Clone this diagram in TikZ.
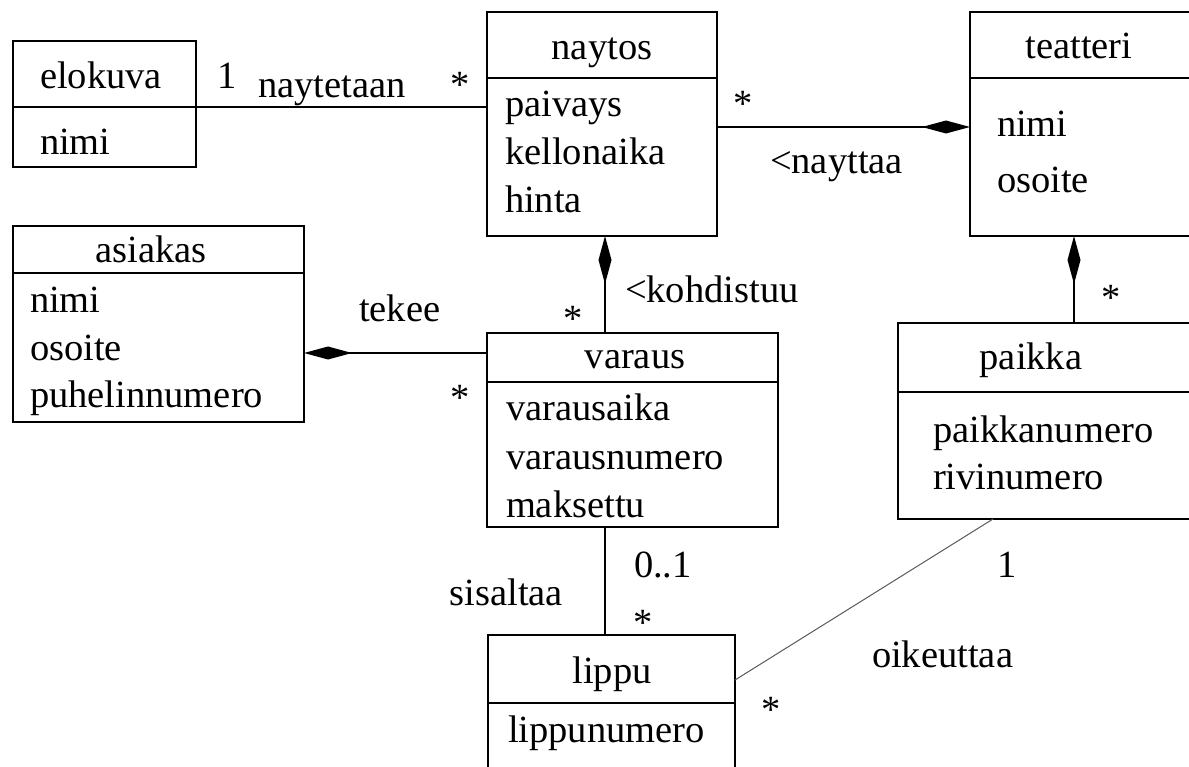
\documentclass[tikz,border=0pt]{standalone}
\usepackage{fontspec}
\setmainfont{Liberation Serif}
\usetikzlibrary{arrows.meta}
\begin{document}
\begin{tikzpicture}[x=1pt,y=-1pt,
  every node/.style={font=\fontsize{38.5}{46}\selectfont, inner sep=0pt, outer sep=0pt},
  cls/.style={draw, line width=1.7pt, anchor=north west},
  txt/.style={anchor=base west},
  ctr/.style={anchor=base},
  sep/.style={line width=1.7pt},
  assoc/.style={line width=1.7pt},
  compend/.style={line width=1.7pt, -{Diamond[length=48pt,width=13pt]}},
  compstart/.style={line width=1.7pt, {Diamond[length=48pt,width=13pt]}-},
  thinassoc/.style={line width=1pt, draw=black!65},
]
\useasboundingbox (0,0) rectangle (1189,767);
\clip (0,0) rectangle (1189,767);

% class boxes
\node[cls, minimum width=183pt, minimum height=126pt] (elokuva) at (13,41) {};
\node[cls, minimum width=230pt, minimum height=224pt] (naytos) at (487,12) {};
\node[cls, minimum width=225pt, minimum height=224pt] (teatteri) at (970,12) {};
\node[cls, minimum width=291pt, minimum height=196pt] (asiakas) at (13,226) {};
\node[cls, minimum width=291pt, minimum height=194pt] (varaus) at (487,333) {};
\node[cls, minimum width=297pt, minimum height=196pt] (paikka) at (898,323) {};
\node[cls, minimum width=247pt, minimum height=160pt] (lippu) at (488,635) {};

% dividers
\draw[sep] (elokuva.west |- 0,107) -- (elokuva.east |- 0,107);
\draw[sep] (naytos.west |- 0,78) -- (naytos.east |- 0,78);
\draw[sep] (teatteri.west |- 0,78) -- (teatteri.east |- 0,78);
\draw[sep] (asiakas.west |- 0,273) -- (asiakas.east |- 0,273);
\draw[sep] (varaus.west |- 0,382) -- (varaus.east |- 0,382);
\draw[sep] (paikka.west |- 0,392) -- (paikka.east |- 0,392);
\draw[sep] (lippu.west |- 0,703) -- (lippu.east |- 0,703);

% class texts
\node[ctr] (elokuvaN) at (101,89) {elokuva};
\node[txt] (elokuvaA1) at (40,155) {nimi};

\node[ctr] (naytosN) at (602,60) {naytos};
\node[txt] (naytosA1) at (505,117) {paivays};
\node[txt] (naytosA2) at (505,165) {kellonaika};
\node[txt] (naytosA3) at (505,213) {hinta};

\node[ctr] (teatteriN) at (1079,59) {teatteri};
\node[txt] (teatteriA1) at (997,137) {nimi};
\node[txt] (teatteriA2) at (997,193) {osoite};

\node[ctr] (asiakasN) at (151,263) {asiakas};
\node[txt] (asiakasA1) at (30,313) {nimi};
\node[txt] (asiakasA2) at (30,360) {osoite};
\node[txt] (asiakasA3) at (30,407) {puhelinnumero};

\node[ctr] (varausN) at (635,368) {varaus};
\node[txt] (varausA1) at (506,420) {varausaika};
\node[txt] (varausA2) at (506,469) {varausnumero};
\node[txt] (varausA3) at (506,517) {maksettu};

\node[ctr] (paikkaN) at (1031,370) {paikka};
\node[txt] (paikkaA1) at (933,442) {paikkanumero};
\node[txt] (paikkaA2) at (933,489) {rivinumero};

\node[ctr] (lippuN) at (612,683) {lippu};
\node[txt] (lippuA1) at (508,742) {lippunumero};

% connectors
\draw[assoc] (elokuva.east |- 0,107) -- (naytos.west |- 0,107);
\draw[compend] (naytos.east |- 0,127) -- (teatteri.west |- 0,127);
\draw[compstart] (naytos.south -| 605,0) -- (varaus.north -| 605,0);
\draw[compstart] (teatteri.south -| 1074,0) -- (paikka.north -| 1074,0);
\draw[compend] (varaus.west |- 0,353) -- (asiakas.east |- 0,353);
\draw[assoc] (varaus.south -| 605,0) -- (lippu.north -| 605,0);
\draw[thinassoc] (paikka.south -| 993,0) -- (lippu.east |- 0,680);

% association labels
\node[txt] (m1) at (217,89) {1};
\node[txt] (l1) at (258,98) {naytetaan};
\node[ctr] (m2) at (460,98) {*};
\node[ctr] (m3) at (743,117) {*};
\node[txt] (l2) at (770,174) {<nayttaa};
\node[txt] (l3) at (625,303) {<kohdistuu};
\node[ctr] (m4) at (573,331) {*};
\node[txt] (l4) at (359,322) {tekee};
\node[ctr] (m5) at (460,410) {*};
\node[ctr] (m6) at (1111,311) {*};
\node[txt] (m7) at (634,577) {0..1};
\node[anchor=base east] (l5) at (563,605) {sisaltaa};
\node[ctr] (m8) at (643,635) {*};
\node[ctr] (m9) at (1007,577) {1};
\node[txt] (l6) at (872,667) {oikeuttaa};
\node[ctr] (m10) at (771,722) {*};
\end{tikzpicture}
\end{document}
